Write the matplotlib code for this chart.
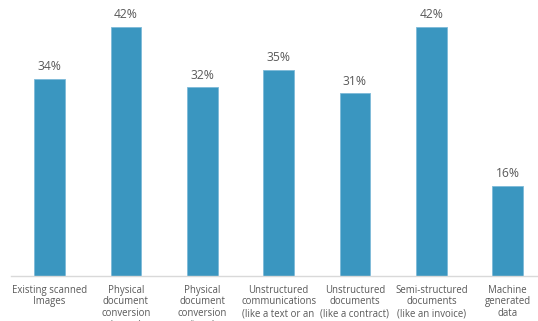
import matplotlib.pyplot as plt

categories = [
    "Existing scanned\nImages",
    "Physical\ndocument\nconversion\n(paper)",
    "Physical\ndocument\nconversion\n(tape)",
    "Unstructured\ncommunications\n(like a text or an\nemail)",
    "Unstructured\ndocuments\n(like a contract)",
    "Semi-structured\ndocuments\n(like an invoice)",
    "Machine\ngenerated\ndata",
]
values = [33.5, 42.3, 32.0, 35.0, 31.0, 42.3, 15.3]
value_labels = ["34%", "42%", "32%", "35%", "31%", "42%", "16%"]

plt.rcParams['font.family'] = ['Open Sans', 'DejaVu Sans']

fig = plt.figure(figsize=(5.38, 3.21), dpi=100)
# axis runs a bit past the right edge, as in the cropped original
ax = fig.add_axes([11.3 / 538, 45.5 / 321, 534.6 / 538, 264.6 / 321])

x = range(len(categories))
bars = ax.bar(x, values, width=0.40, color="#3a96c0", edgecolor="#7dbad8", linewidth=0.6)

for b, lab in zip(bars, value_labels):
    ax.annotate(lab, (b.get_x() + b.get_width() / 2, b.get_height()),
                xytext=(0, 4), textcoords="offset points",
                ha="center", va="bottom", fontsize=8.7, color="#595959")

ax.set_xlim(-0.5, 6.5)
ax.set_ylim(0, 45)
ax.set_xticks(list(x))
ax.set_xticklabels(categories, fontsize=6.9, color="#595959", linespacing=1.12)
ax.tick_params(axis="x", length=0, pad=6.5)
ax.set_yticks([])
for s in ["top", "right", "left"]:
    ax.spines[s].set_visible(False)
ax.spines["bottom"].set_color("#d9d9d9")
ax.spines["bottom"].set_linewidth(1.0)

fig.savefig("out.png", dpi=100)
